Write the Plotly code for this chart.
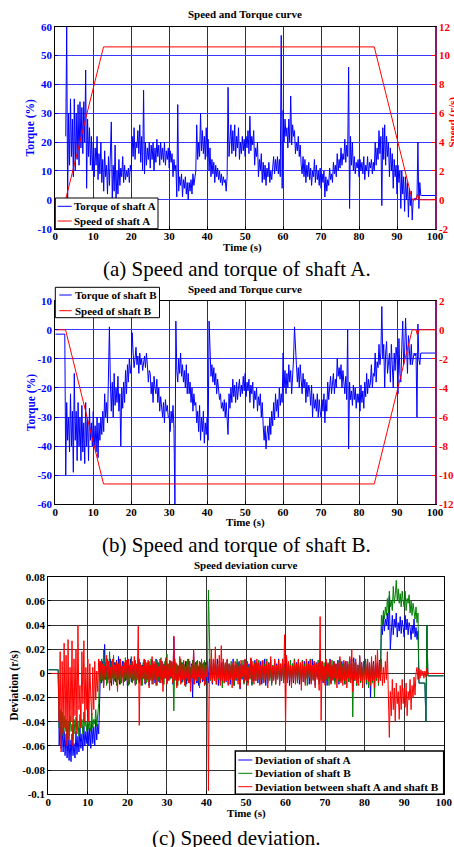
import plotly.graph_objects as go

W, H = 454, 847

# ---------------- data ----------------
t = [i * 0.25 for i in range(401)]  # sample times 0 .. 100 s

torque_a = [
    None, None, None, None, None, None, None, None, None, None, None, 22, 60, 0, 30, 12, 35, 15, 28, 8,
    35, 10, 30, 14, 33, 12, 34, 18, 32, 16, 34, 20, 45, 4, 28, 15, 25, 12, 22, 10,
    20, 8, 18, 12, 22, 7, 16, 9, 20, 6, 14, 3, 17, 8, 12, 2, 15, 5, 20, 27,
    0, 12, 3, 19, 0, 10, 2, 14, 5, 11, 8, 15, 6, 12, 7, 10, 8, 11, 6, 12,
    10, 22, 15, 25, 14, 20, 18, 24, 16, 26, 13, 22, 10, 38, 9, 20, 12, 18, 14, 20,
    11, 19, 14, 20, 10, 18, 13, 21, 15, 19, 12, 20, 14, 18, 13, 20, 12, 17, 14, 18,
    11, 17, 13, 16, 8, 14, 10, 12, 1, 33, 3, 8, 5, 9, 1, 7, 4, 8, 2, 6,
    0, 6, 3, 7, 2, 9, 5, 8, 10, 26, 14, 20, 15, 30, 17, 24, 16, 22, 14, 25,
    15, 21, 10, 18, 8, 14, 9, 13, 6, 12, 8, 11, 7, 10, 6, 9, 5, 8, 6, 7,
    3, 8, 39, 15, 20, 26, 16, 24, 17, 26, 15, 22, 18, 25, 14, 20, 16, 22, 17, 21,
    15, 22, 18, 24, 16, 29, 17, 22, 19, 24, 12, 18, 15, 20, 8, 14, 10, 16, 6, 13,
    7, 12, 5, 11, 8, 13, 6, 10, 7, 12, 15, 9, 14, 10, 15, 9, 14, 8, 57, 4,
    31, 20, 28, 22, 25, 18, 28, 20, 36, 19, 26, 22, 24, 16, 20, 17, 22, 15, 19, 12,
    9, 15, 8, 14, 6, 12, 8, 13, 7, 11, 5, 10, 8, 14, 6, 12, 7, 10, 5, 11,
    4, 9, 6, 10, 1, 8, 3, 7, 5, 11, 7, 9, 6, 13, 9, 12, 8, 16, 10, 14,
    11, 18, 12, 16, 14, 21, 13, 19, 15, 46, -3, 22, 12, 20, 10, 15, 9, 13, 11, 14,
    8, 14, 10, 13, 9, 15, 7, 12, 10, 15, 8, 13, 11, 14, 9, 13, 10, 20, 12, 18,
    14, 24, 16, 22, -2, 25, 14, 26, 12, 22, 15, 20, 8, 18, 10, 16, 4, 14, 8, 12,
    2, 12, 6, 10, -3, 10, 2, 8, -4, 8, 0, 6, -6, 4, -2, 3, -7, 0, 0.5, 0.5,
    0.5, 0.5, 20, -3, 6, 1.5, 1.5, 1.5, 1.5, 1.5, 1.5, 1.5, 1.5, 1.5, 1.5, 1.5, 1.5, 1.5, 1.5, 1.5,
    1.5,
]

torque_b = [
    -1.5, -1.5, -1.5, -1.5, -1.5, -1.5, -1.5, -1.5, -1.5, -1.5, -1.5, -50, -25, -38, -30, -42, -22, -40, -28, -49,
    -15, -38, -28, -45, -25, -40, -30, -45, -26, -42, -32, -46, -25, -40, -30, -45, -27, -38, -32, -40,
    -28, -40, -33, -42, -30, -44, -32, -38, -30, -36, -28, -35, -22, -30, -25, -32, -20, 1, -18, -28,
    -18, -30, -15, -26, -20, -25, -16, -28, -22, -40, -20, -27, -18, -25, -14, -22, -12, -18, -10, -15,
    -12, -1, -8, -13, -10, -6, -12, -9, -15, -8, -12, -10, -14, -11, -9, -13, -8, -12, -18, -14,
    -15, -22, -18, -25, -16, -20, -22, -17, -25, -20, -28, -23, -27, -30, -25, -32, -24, -28, -26, -30,
    -30, -35, -28, -32, -26, -34, -60, 3, -14, -18, -10, -15, -8, -16, -12, -18, -14, -20, -12, -22,
    -15, -22, -18, -25, -20, -28, -22, -26, -25, -32, -28, -35, -26, -38, -30, -35, -28, -39, -32, -36,
    -30, -38, 3, -10, -16, -12, -18, -13, -19, -15, -22, -17, -20, -24, -22, -27, -25, -28, -24, -30,
    -25, -30, -36, -22, -27, -20, -25, -17, -23, -19, -25, -18, -24, -20, -17, -23, -19, -22, -16, -21,
    -15, -23, -18, -21, -17, -25, -19, -22, -18, -27, -21, -24, -20, -28, -23, -26, -22, -30, -25, -33,
    -38, -33, -41, -36, -33, -38, -30, -36, -28, -33, -25, -31, -22, -28, -24, -30, -20, -26, -22, -25,
    -8, -20, -14, -22, -15, -20, -12, -18, -14, -22, -16, -10, 1, -8, -12, -18, -13, -20, -12, -17,
    -22, -15, -20, -17, -25, -18, -23, -19, -21, -26, -19, -30, -22, -27, -24, -28, -22, -30, -24, -28,
    -30, -24, -28, -22, -32, -24, -28, -18, -24, -20, -16, -22, -18, -15, -22, -17, -20, -10, -16, -13,
    -17, -12, -20, -14, -18, -22, -16, -24, 0, -41, -18, -24, -21, -26, -19, -24, -20, -27, -22, -25,
    -22, -28, -19, -25, -21, -27, -18, -23, -15, -22, -17, -20, -18, -12, -20, -15, -16, -8, -18, -11,
    -13, -5, -12, -8, 8, -10, -5, -20, -8, -4, -15, -10, -8, -18, -5, -12, -20, -8, -14, -6,
    -10, -22, -3, -15, -18, -6, 3, -12, -8, 4, -10, -15, -2, -8, -12, -5, -12, -10, -8, -9,
    -8, -30, 2, -10, -12, -8, -8, -8, -8, -8, -8, -8, -8, -8, -8, -8, -8, -8, -8, -8,
    -8,
]

speed_a_t = [2.7, 12.7, 84.0, 94.0, 95.0, 95.4, 95.8, 100.0]
speed_a = [0, 10.6, 10.6, 0, 0, 0.4, 0, 0]
speed_b_t = [0.0, 2.7, 12.7, 84.0, 94.0, 95.0, 95.4, 95.8, 100.0]
speed_b = [0, 0, -10.6, -10.6, 0, 0, -0.4, 0, 0]

# deviations in units of 1e-3 r/s
dev_a_milli = [
    3, 3, 3, 3, 3, 3, 3, 3, 3, 3, 3, -60, -40, -62, -45, -65, -48, -68, -50, -70,
    -52, -72, -55, -73, -50, -68, -58, -70, -48, -67, -52, -65, -45, -62, -50, -64, -44, -60, -48, -58,
    -42, -60, -45, -62, -40, -58, -44, -60, -38, -55, -42, -50, -5, 8, -8, 10, -10, 24, -5, 6,
    -8, 9, -4, 12, -10, 6, -3, 9, -7, 11, -5, 14, -9, 8, -4, 10, -8, 7, -6, 9,
    -10, 6, -4, 12, -7, 9, -5, 8, -9, 5, -3, 10, -8, 9, -6, 7, -4, 11, -9, 6,
    -5, 9, -10, 7, -4, 11, -6, 8, -8, 12, -3, 9, -7, 6, -5, 10, -9, 8, -4, 12,
    -8, 7, -5, 10, -4, 9, -9, 30, -6, 8, -10, 6, -5, 11, -3, 9, -7, 8, -6, 10,
    -9, 6, -4, 10, -7, 8, -20, 18, -5, 9, -8, 7, -10, 6, -4, 11, -7, 8, -5, 9,
    -6, 10, -8, 12, -5, 7, -9, 11, -4, 8, -7, 12, -10, 6, -5, 9, -3, 10, -8, 7,
    -7, 11, -5, 8, -9, 6, -4, 12, -10, 7, -6, 9, -3, 10, -13, 8, -5, 7, -8, 11,
    -5, 10, -7, 8, -4, 12, -9, 6, -6, 11, -3, 9, -8, 7, -5, 10, -9, 6, -4, 12,
    -10, 7, -6, 9, -4, 11, -8, 6, -5, 10, -7, 8, -3, 12, -9, 6, -6, 10, -5, 8,
    -7, 14, -5, 9, -10, 7, -4, 8, -8, 12, -6, 9, -3, 11, -9, 7, -5, 8, -7, 10,
    -8, 6, -4, 10, -9, 7, -6, 12, -5, 8, -10, 9, -3, 7, -7, 11, -4, 9, -8, 6,
    -6, 9, -10, 7, -4, 12, -8, 6, -5, 10, -7, 8, -3, 11, -9, 7, -6, 10, -5, 8,
    -9, 10, -4, 7, -7, 12, -5, 8, -8, 13, -6, 9, -10, 7, -4, 14, -7, 9, -5, 10,
    -5, 8, -9, 11, -6, 7, -20, 9, -4, 10, -8, 6, -5, 9, -7, 11, -4, 40, 32, 48,
    35, 45, 40, 50, 36, 64, 20, 42, 48, 32, 45, 38, 50, 30, 42, 35, 47, 33, 44, 38,
    30, 48, 36, 45, 32, 42, 38, 28, 40, 33, 45, 30, 38, 28, 35, -8, -8, -8, -8, -8,
    -8, -8, -40, 40, -2, -2, -2, -2, -2, -2, -2, -2, -2, -2, -2, -2, -2, -2, -2, -2,
    -2,
]

dev_b_milli = [
    3, 3, 3, 3, 3, 3, 3, 3, 3, 3, 3, -45, -30, -50, -32, -52, -35, -48, -38, -55,
    -40, -52, -35, -48, -42, -55, -38, -50, -36, -47, -40, -52, -34, -45, -38, -50, -32, -44, -40, -48,
    -36, -46, -40, -48, -33, -45, -38, -42, -30, -44, -35, -25, 10, -8, 12, -6, 20, -5, 9, -10,
    12, -5, 18, -8, 10, -4, 15, -6, 9, -10, 8, -5, 12, -9, 6, -3, 10, -7, 13, -5,
    9, -10, 7, -4, 14, -8, 6, -5, 11, -9, 8, -6, 12, -4, 7, -10, 9, -5, 11, -8,
    6, -7, 10, -5, 12, -9, 8, -4, 7, -10, 11, -6, 9, -8, 13, -5, 6, -9, 10, -4,
    16, -6, 8, -5, 10, -4, 7, -31, 12, -5, 8, -10, 6, -3, 12, -8, 9, -5, 7, -11,
    10, -6, 12, -8, 5, -4, 11, -9, 7, -5, 10, -8, 6, -12, 9, -4, 8, -6, 11, -9,
    7, -5, 69, 10, -6, 12, -8, 5, -4, 11, -9, 7, -5, 10, -8, 6, -12, 9, -4, 8,
    -6, 11, -9, 7, -5, 10, -3, 8, -10, 6, -5, 12, -6, 9, -8, 5, -4, 11, -9, 7,
    -3, 10, -8, 6, -5, 12, -10, 7, -4, 9, -6, 8, -3, 11, -9, 6, -5, 10, -7, 8,
    -4, 12, -8, 9, -6, 5, -10, 7, -3, 11, -9, 6, -5, 10, -7, 8, -4, 12, -8, 6,
    -10, 9, -5, 7, -4, 11, -9, 8, -6, 12, -3, 7, -8, 10, -5, 6, -9, 11, -4, 8,
    -6, 9, -10, 7, -4, 12, -8, 6, -5, 10, -7, 8, -3, 11, -9, 7, -6, 10, -5, 9,
    -8, 5, -6, 9, -10, 7, -3, 11, -5, 8, -9, 6, -4, 10, -7, 12, -6, 8, -5, 9,
    -9, 6, -4, 10, -7, 8, -5, 12, -36, 9, -6, 8, -10, 7, -4, 11, -8, 6, -5, 10,
    -5, 12, -8, 9, -12, 6, -4, 10, -8, 7, -20, 9, -6, 8, -10, 6, -5, 48, 40, 52,
    45, 55, 48, 62, 50, 68, 55, 60, 52, 72, 58, 65, 77, 60, 70, 58, 66, 55, 68, 60,
    55, 68, 52, 62, 58, 65, 50, 60, 48, 58, 52, 45, 55, 42, 50, -8, -8, -8, -8, -8,
    -8, -8, -40, 40, -2, -2, -2, -2, -2, -2, -2, -2, -2, -2, -2, -2, -2, -2, -2, -2,
    -2,
]

dev_ab_milli = [
    0, 0, 0, 0, 0, 0, 0, 0, 0, 0, 0, -40, 18, -65, 10, -50, 25, -45, 15, -60,
    28, -55, 5, -40, 27, -60, 12, -35, 20, -50, 40, -30, -10, -45, 18, -25, 27, -40, 5, -30,
    12, -40, 8, -20, -35, 5, -30, 10, -22, 2, -15, 12, -6, 10, -5, 8, -12, 6, -3, 15,
    -8, 10, -14, 5, -6, 12, -9, 7, -4, 10, -15, 8, -5, 12, -8, 6, -10, 9, -4, 11,
    -7, 12, -9, 7, -4, 10, -6, 14, -10, 8, -5, 39, -43, 8, -10, 6, -4, 12, -8, 9,
    -5, 11, -12, 7, -6, 14, -9, 10, -5, 8, -10, 6, -3, 12, -8, 10, -15, 7, -4, 13,
    -9, 8, -6, 11, -3, 10, -8, 31, -5, 9, -12, 7, -6, 14, -9, 8, -5, 11, -10, 6,
    -4, 12, -8, 9, -15, 7, -4, 20, -9, 8, -6, 11, -3, 10, -8, 12, -5, 9, -10, 7,
    -3, 10, -97, 9, -5, 20, -8, 12, -6, 22, -9, 8, -4, 15, -10, 23, -6, 12, -8, 9,
    -6, 12, -10, 8, -5, 7, -12, 9, -6, 10, -4, 8, -9, 6, -12, 11, -3, 7, -8, 12,
    -6, 9, -10, 5, -4, 13, -7, 10, -9, 8, -6, 12, -5, 9, -10, 7, -4, 11, -8, 6,
    -5, 10, -12, 8, -4, 14, -8, 6, -6, 12, -9, 7, -3, 11, -10, 8, -5, 12, -8, 32,
    -46, 15, -8, 10, -5, 7, -12, 6, -4, 11, -9, 8, -6, 12, -5, 9, -14, 10, -7, 6,
    -10, 12, -5, 8, -3, 11, -9, 7, -6, 10, -12, 8, -5, 9, -14, 47, -39, 10, -7, 6,
    -10, 12, -5, 8, -3, 11, -9, 7, -6, 10, -4, 8, -12, 9, -5, 14, -8, 6, -10, 11,
    -6, 10, -12, 8, -4, 14, -8, 20, -15, 9, -5, 12, -8, 7, -10, 15, -6, 9, -12, 5,
    -8, 10, -5, 12, -7, 9, -10, 14, -6, 8, -12, 15, -4, 20, -8, 10, -6, 12, -10, 5,
    -8, 10, -5, 18, -10, -53, -15, -35, -5, -30, -12, -40, -8, -25, -15, -38, -10, -30, -5, -25,
    -12, -28, -8, -35, -15, -22, -5, -30, -10, -20, -3, -18, 0, 5, -5, 4, -4, 3, -2, 2,
    -4, 2, -3, 4, 0, 0, 0, 0, 0, 0, 0, 0, 0, 0, 0, 0, 0, 0, 0, 0,
    0,
]

x_ticks = [0, 10, 20, 30, 40, 50, 60, 70, 80, 90, 100]
torque_a_ticks = [-10, 0, 10, 20, 30, 40, 50, 60]
speed_a_ticks = [-2, 0, 2, 4, 6, 8, 10, 12]
torque_b_ticks = [-60, -50, -40, -30, -20, -10, 0, 10]
speed_b_ticks = [-12, -10, -8, -6, -4, -2, 0, 2]
dev_ticks = [-0.1, -0.08, -0.06, -0.04, -0.02, 0, 0.02, 0.04, 0.06, 0.08]
dev_tick_labels = ["-0.1", "-0.08", "-0.06", "-0.04", "-0.02", "0",
                   "0.02", "0.04", "0.06", "0.08"]

dev_a = [v / 1000 for v in dev_a_milli]
dev_b = [v / 1000 for v in dev_b_milli]
dev_ab = [v / 1000 for v in dev_ab_milli]

# ---------------- styling ----------------
FONT = "Liberation Serif"
BLUE = "#0000ff"
RED = "#ff0000"
GREEN = "#008000"
PURPLE = "#8b1a6e"
GRID_X = "#333333"
GRID_BLUE = "#3a3aff"


def px(x):
    return x / W


def py(y):
    return 1 - y / H


def tf(size=11, color="black", bold=True):
    d = dict(family=FONT, size=size, color=color)
    if bold:
        d["weight"] = "bold"
    return d


fig = go.Figure()

# panel (a)
fig.add_trace(go.Scatter(x=t, y=torque_a, mode="lines", name="Torque of shaft A",
                         line=dict(color=BLUE, width=1), xaxis="x", yaxis="y",
                         showlegend=False, connectgaps=False))
fig.add_trace(go.Scatter(x=speed_a_t, y=speed_a, mode="lines", name="Speed of shaft A",
                         line=dict(color=RED, width=1), xaxis="x", yaxis="y2",
                         showlegend=False))
# panel (b)
fig.add_trace(go.Scatter(x=t, y=torque_b, mode="lines", name="Torque of shaft B",
                         line=dict(color=BLUE, width=1), xaxis="x2", yaxis="y3",
                         showlegend=False))
fig.add_trace(go.Scatter(x=speed_b_t, y=speed_b, mode="lines", name="Speed of shaft B",
                         line=dict(color=RED, width=1), xaxis="x2", yaxis="y4",
                         showlegend=False))
# panel (c)
fig.add_trace(go.Scatter(x=t, y=dev_a, mode="lines", name="Deviation of shaft A",
                         line=dict(color=BLUE, width=1), xaxis="x3", yaxis="y5",
                         showlegend=False))
fig.add_trace(go.Scatter(x=t, y=dev_b, mode="lines", name="Deviation of shaft B",
                         line=dict(color=GREEN, width=1), xaxis="x3", yaxis="y5",
                         showlegend=False))
fig.add_trace(go.Scatter(x=t, y=dev_ab, mode="lines",
                         name="Deviation between shaft A and shaft B",
                         line=dict(color=RED, width=1), xaxis="x3", yaxis="y5",
                         showlegend=False))

dom_ab_x = [px(55.3), px(435)]
dom_c_x = [px(48.3), px(443.7)]
dom_a_y = [py(228.7), py(26.7)]
dom_b_y = [py(504.3), py(300.7)]
dom_c_y = [py(794.3), py(576.7)]


def xaxis(domain, anchor):
    return dict(domain=domain, anchor=anchor, range=[0, 100],
                tickvals=x_ticks, ticktext=[str(v) for v in x_ticks],
                showgrid=True, gridcolor=GRID_X, gridwidth=1,
                showline=True, linecolor="black", linewidth=1, mirror=True,
                ticks="inside", ticklen=3, tickcolor="black",
                ticklabelstandoff=-3,
                tickfont=tf(11), zeroline=False, automargin=False)


def yaxis(domain, anchor, rng, vals, labels, color, gridcolor):
    return dict(domain=domain, anchor=anchor, range=rng,
                tickvals=vals, ticktext=labels,
                showgrid=True, gridcolor=gridcolor, gridwidth=1,
                showline=True, linecolor="black", linewidth=1,
                ticks="inside", ticklen=3, tickcolor=color,
                tickfont=tf(11, color), zeroline=False, automargin=False)


def yaxis_right(overlay, anchor, rng, vals):
    return dict(overlaying=overlay, anchor=anchor, side="right", range=rng,
                tickvals=vals, ticktext=[str(v) for v in vals],
                showgrid=False, showline=True, linecolor=PURPLE, linewidth=1.5,
                ticks="inside", ticklen=3, tickcolor=RED,
                tickfont=tf(11, RED), zeroline=False, automargin=False)


fig.update_layout(
    width=W, height=H,
    margin=dict(l=0, r=0, t=0, b=0),
    paper_bgcolor="white", plot_bgcolor="white",
    showlegend=False,
    font=dict(family=FONT),
    xaxis=xaxis(dom_ab_x, "y"),
    yaxis=yaxis(dom_a_y, "x", [-10, 60], torque_a_ticks,
                [str(v) for v in torque_a_ticks], BLUE, GRID_BLUE),
    yaxis2=yaxis_right("y", "x", [-2, 12], speed_a_ticks),
    xaxis2=xaxis(dom_ab_x, "y3"),
    yaxis3=yaxis(dom_b_y, "x2", [-60, 10], torque_b_ticks,
                 [str(v) for v in torque_b_ticks], BLUE, GRID_BLUE),
    yaxis4=yaxis_right("y3", "x2", [-12, 2], speed_b_ticks),
    xaxis3=xaxis(dom_c_x, "y5"),
    yaxis5=dict(yaxis(dom_c_y, "x3", [-0.1, 0.08], dev_ticks, dev_tick_labels,
                      "black", GRID_X), mirror=True),
)

ann = []


def text(x, y, s, size=11, color="black", bold=True, angle=0, xanchor="center"):
    ann.append(dict(x=px(x), y=py(y), xref="paper", yref="paper", text=s,
                    showarrow=False, font=tf(size, color, bold), textangle=angle,
                    xanchor=xanchor, yanchor="middle"))


# titles
text(245, 13.7, "Speed and Torque curve", 11)
text(245, 288.7, "Speed and Torque curve", 11)
text(245, 565, "Speed deviation curve", 11)
# axis titles
text(242, 247.5, "Time (s)", 11)
text(245, 522.5, "Time (s)", 11)
text(246, 813, "Time (s)", 11)
text(30.7, 127.7, "Torque (%)", 11.5, BLUE, angle=-90)
text(31.7, 402.5, "Torque (%)", 11.5, BLUE, angle=-90)
text(14.3, 685.5, "Deviation (r/s)", 11.5, angle=-90)
text(451.5, 122, "Speed (r/s)", 11, RED, angle=-90)
text(458.5, 402.5, "Speed (r/s)", 11, RED, angle=-90)
# captions
text(236.5, 269, "(a) Speed and torque of shaft A.", 21, bold=False)
text(236.5, 545, "(b) Speed and torque of shaft B.", 21, bold=False)
text(236, 837.5, "(c) Speed deviation.", 21, bold=False)

shapes = []


def legend_box(x0, y0, x1, y1, entries, fs, lw=1):
    shapes.append(dict(type="rect", xref="paper", yref="paper",
                       x0=px(x0), x1=px(x1), y0=py(y1), y1=py(y0),
                       line=dict(color="black", width=lw), fillcolor="white",
                       layer="above"))
    for (ly, color, label, lx0, lx1, tx) in entries:
        shapes.append(dict(type="line", xref="paper", yref="paper",
                           x0=px(lx0), x1=px(lx1), y0=py(ly), y1=py(ly),
                           line=dict(color=color, width=1), layer="above"))
        text(tx, ly, label, fs, xanchor="left")


legend_box(55.3, 198, 158, 228.7, [
    (206.3, BLUE, "Torque of shaft A", 57.7, 71.7, 72.0),
    (221.0, RED, "Speed of shaft A", 57.7, 71.7, 72.0),
], 11)
legend_box(55.3, 287.3, 159.5, 317.7, [
    (295.0, BLUE, "Torque of shaft B", 59.3, 71.7, 73.0),
    (310.7, RED, "Speed of shaft B", 59.3, 71.7, 73.0),
], 11)
legend_box(235.3, 751, 443.7, 794.3, [
    (760.0, BLUE, "Deviation of shaft A", 238.3, 252.3, 253.0),
    (773.3, GREEN, "Deviation of shaft B", 238.3, 252.3, 253.0),
    (786.7, RED, "Deviation between shaft A and shaft B", 238.3, 252.3, 253.0),
], 11.3, lw=1.5)

fig.update_layout(annotations=ann, shapes=shapes)

fig.write_html("out.html")
